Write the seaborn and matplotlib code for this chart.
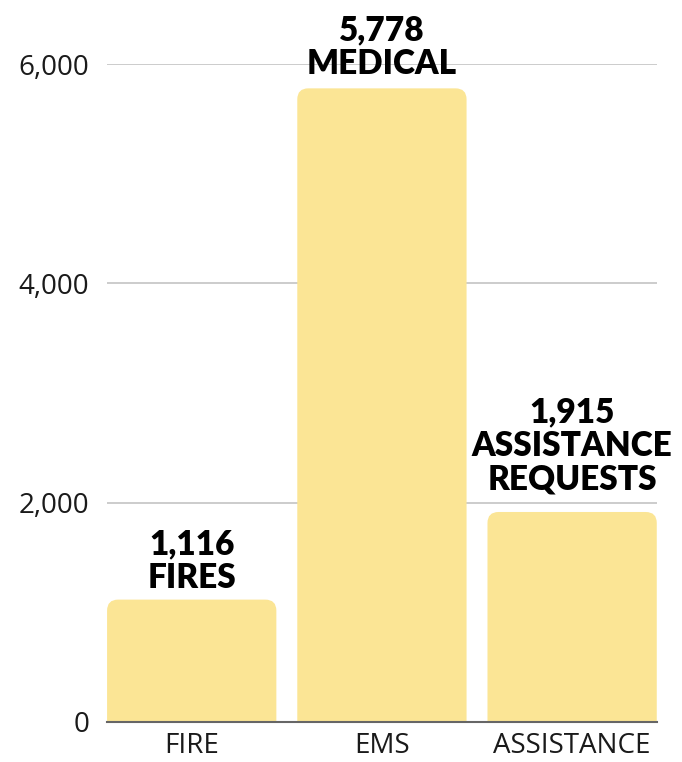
import pandas as pd
import seaborn as sns
import matplotlib.pyplot as plt
from matplotlib.patches import FancyBboxPatch

categories = ['FIRE', 'EMS', 'ASSISTANCE']
counts = [1116, 5778, 1915]
labels = ['FIRES', 'MEDICAL', 'ASSISTANCE\nREQUESTS']
label_offsets = [4, 6, 12]  # points above each bar

df = pd.DataFrame({'category': categories, 'count': counts})

sns.set_style('white')
plt.rcParams['font.family'] = ['Lato', 'DejaVu Sans']

fig = plt.figure(figsize=(6.82, 7.62), dpi=100)
ax = fig.add_axes([0.157, 0.0525, 0.806, 0.8635])

sns.barplot(data=df, x='category', y='count', color='#fbe595', saturation=1,
            width=0.89, ax=ax, zorder=3)

ax.set_ylim(0, 6000)
ax.set_xlim(-0.445, 2.445)
ax.set_yticks([0, 2000, 4000, 6000])
ax.set_yticklabels(['0', '2,000', '4,000', '6,000'])
ax.yaxis.grid(True, color='#c4c4c4', linewidth=1.2, zorder=0)
ax.set_axisbelow(True)
ax.tick_params(axis='both', length=0, labelsize=20, colors='#1a1a1a')
ax.tick_params(axis='y', pad=13)
ax.tick_params(axis='x', pad=7)
for t in ax.get_xticklabels() + ax.get_yticklabels():
    t.set_family(['Open Sans', 'DejaVu Sans'])
ax.set_xlabel('')
ax.set_ylabel('')
for s in ['top', 'right', 'left']:
    ax.spines[s].set_visible(False)
ax.spines['bottom'].set_color('#666666')
ax.spines['bottom'].set_linewidth(1.5)
ax.spines['bottom'].set_zorder(5)

# rounded tops: swap each bar for a rounded box (bottom clipped by the axis)
fig.canvas.draw()
px_x = ax.transData.transform((1, 0))[0] - ax.transData.transform((0, 0))[0]
px_y = ax.transData.transform((0, 1))[1] - ax.transData.transform((0, 0))[1]
r = 11 / px_x
aspect = px_x / px_y
for bar in list(ax.patches):
    x, w, h = bar.get_x(), bar.get_width(), bar.get_height()
    bar.remove()
    box = FancyBboxPatch((x, -r * aspect * 2), w, h + r * aspect * 2,
                         boxstyle=f'round,pad=0,rounding_size={r}',
                         mutation_aspect=aspect, facecolor='#fbe595',
                         edgecolor='none', zorder=3)
    ax.add_patch(box)

for i, (v, lab, off) in enumerate(zip(counts, labels, label_offsets)):
    ax.annotate(f'{v:,}\n{lab}', (i, v), xytext=(0, off), textcoords='offset points',
                ha='center', va='bottom', fontsize=24, fontweight='heavy',
                linespacing=1.05, color='black', annotation_clip=False)

plt.savefig('out.png', dpi=100)
